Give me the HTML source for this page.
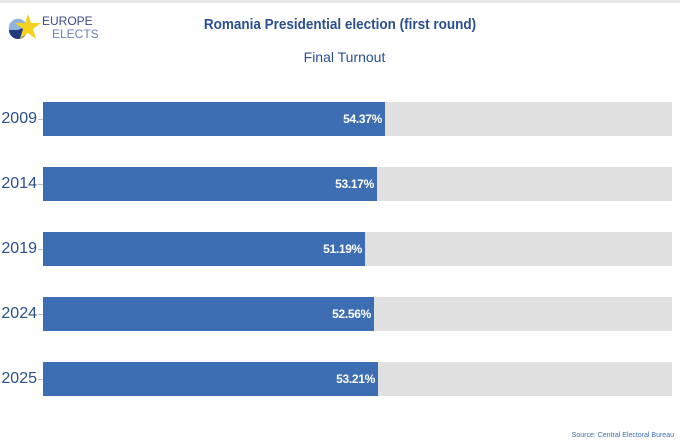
<!DOCTYPE html>
<html><head><style>
body{margin:0;width:680px;height:445px;background:#fff;overflow:hidden;font-family:"Liberation Sans",sans-serif;position:relative}
.t{position:absolute;left:0;width:680px;text-align:center;color:#2a4f8f}
.lab{position:absolute;left:0;width:37px;text-align:right;color:#2a4f8f;font-size:16px}
.bg{position:absolute;left:43px;width:629px;height:34px;background:#e0e0e0}
.b{position:absolute;left:43px;height:34px;background:#3d6db2;color:#fff;font-weight:bold;font-size:12px;text-align:right;line-height:34px;box-sizing:border-box;padding-right:3px;letter-spacing:-0.3px}
.tk{position:absolute;left:38px;width:5px;height:1px;background:#bbb}
</style></head><body>
<div style="position:absolute;left:0;top:0;width:680px;height:3px;background:#e8e8e8"></div>
<svg style="position:absolute;left:8px;top:12px" width="40" height="30">
<circle cx="10" cy="18" r="9" fill="#233a80"/><path d="M1 18 A9 9 0 0 1 19 14 L10 18Z" fill="#8fb3d9"/>
<polygon points="20,2 23,11 33,11 25,17 28,27 20,21 12,27 15,17 7,11 17,11" fill="#f5d21f"/></svg>
<div style="position:absolute;left:42px;top:15px;color:#3b4a8c;font-size:12px;line-height:13px">EUROPE<br><span style="color:#6b7fb8;padding-left:10px">ELECTS</span></div>
<div class="t" style="top:16px;font-size:15px;font-weight:bold;transform:scaleX(0.9)">Romania Presidential election (first round)</div>
<div class="t" style="top:49px;font-size:14px;padding-left:9px;box-sizing:border-box">Final Turnout</div>
<div class="bg" style="top:102px"></div><div class="b" style="top:102px;width:342px">54.37%</div><div class="lab" style="top:110px">2009</div><div class="tk" style="top:119px"></div>
<div class="bg" style="top:167px"></div><div class="b" style="top:167px;width:334px">53.17%</div><div class="lab" style="top:175px">2014</div><div class="tk" style="top:184px"></div>
<div class="bg" style="top:232px"></div><div class="b" style="top:232px;width:322px">51.19%</div><div class="lab" style="top:240px">2019</div><div class="tk" style="top:249px"></div>
<div class="bg" style="top:297px"></div><div class="b" style="top:297px;width:331px">52.56%</div><div class="lab" style="top:305px">2024</div><div class="tk" style="top:314px"></div>
<div class="bg" style="top:362px"></div><div class="b" style="top:362px;width:335px">53.21%</div><div class="lab" style="top:370px">2025</div><div class="tk" style="top:379px"></div>
<div style="position:absolute;right:6px;top:432px;font-size:7px;color:#3d6db2">Source: Central Electoral Bureau</div>
</body></html>
